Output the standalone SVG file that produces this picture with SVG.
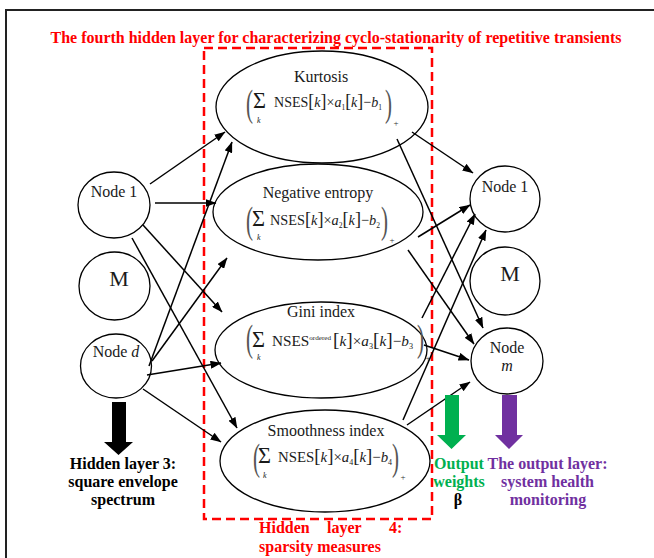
<svg xmlns="http://www.w3.org/2000/svg" width="654" height="558" viewBox="0 0 654 558">
<defs>
<marker id="ah" viewBox="0 0 11 8" refX="10.5" refY="4" markerWidth="11" markerHeight="8" markerUnits="userSpaceOnUse" orient="auto">
<path d="M0,0 L11,4 L0,8 z" fill="#000"/>
</marker>
<style>
.nd{fill:#fff;stroke:#000;stroke-width:1.3}
.lb{font-family:"Liberation Serif","Times New Roman",serif;font-size:16px;fill:#1a1a1a;text-anchor:middle}
.bm{font-family:"Liberation Serif","Times New Roman",serif;font-size:22px;fill:#1a1a1a;text-anchor:middle}
.it{font-style:italic}
.fm{font-family:"Liberation Serif","Times New Roman",serif;font-size:15px;fill:#1a1a1a}
.br{font-size:19px}
.sb{font-size:8px}
.sp{font-size:7px}
.sig{font-family:"Liberation Serif","Times New Roman",serif;font-size:23px;fill:#1a1a1a}
.kk{font-family:"Liberation Serif","Times New Roman",serif;font-size:8px;font-style:italic;fill:#1a1a1a}
.pr{font-family:"Liberation Serif","Times New Roman",serif;font-size:38px;fill:#555}
.pl{font-family:"Liberation Serif","Times New Roman",serif;font-size:9px;fill:#333}
.cn line{stroke:#000;stroke-width:1.5;marker-end:url(#ah)}
.bt{font-family:"Liberation Serif","Times New Roman",serif;font-size:16px;font-weight:bold;text-anchor:middle}
</style>
</defs>
<rect x="0" y="0" width="654" height="558" fill="#fff"/>
<rect x="6" y="10" width="670" height="570" fill="none" stroke="#222" stroke-width="2"/>
<text class="bt" x="336" y="43" fill="#ff0000">The fourth hidden layer for characterizing cyclo-stationarity of repetitive transients</text>
<rect id="hidden-layer-box" x="204" y="48" width="228" height="471" fill="none" stroke="#ff0000" stroke-width="2.5" stroke-dasharray="9,5"/>

<g id="in-node1"><ellipse class="nd" cx="114" cy="205" rx="36" ry="33"/><text class="lb" x="114" y="197">Node 1</text></g>
<g id="in-M"><ellipse class="nd" cx="114.5" cy="286" rx="35.5" ry="34"/><text class="bm" x="119" y="286">M</text></g>
<g id="in-noded"><ellipse class="nd" cx="116" cy="366" rx="35.5" ry="32"/><text class="lb" x="116" y="357">Node <tspan class="it">d</tspan></text></g>

<g id="kurtosis">
<ellipse class="nd" cx="322" cy="107" rx="106" ry="56"/>
<text class="lb" x="321" y="82">Kurtosis</text>
<text class="pr" x="246" y="116" textLength="7" lengthAdjust="spacingAndGlyphs">(</text>
<text class="sig" x="253" y="108" textLength="13" lengthAdjust="spacingAndGlyphs">Σ</text><text class="kk" x="257" y="123">k</text>
<text class="fm" x="274" y="107" textLength="108" lengthAdjust="spacingAndGlyphs">NSES<tspan class="br">[</tspan><tspan class="it">k</tspan><tspan class="br">]</tspan>×<tspan class="it">a</tspan><tspan class="sb" dy="3">1</tspan><tspan class="br" dy="-3">[</tspan><tspan class="it">k</tspan><tspan class="br">]</tspan>−<tspan class="it">b</tspan><tspan class="sb" dy="3">1</tspan></text>
<text class="pr" x="385" y="116" textLength="7" lengthAdjust="spacingAndGlyphs">)</text>
<text class="pl" x="393.5" y="126">+</text>
</g>

<g id="negative-entropy">
<ellipse class="nd" cx="318" cy="212" rx="105" ry="48"/>
<text class="lb" x="318" y="198">Negative entropy</text>
<text class="pr" x="246" y="233" textLength="7" lengthAdjust="spacingAndGlyphs">(</text>
<text class="sig" x="252" y="226" textLength="13" lengthAdjust="spacingAndGlyphs">Σ</text><text class="kk" x="257" y="240">k</text>
<text class="fm" x="270" y="225" textLength="110" lengthAdjust="spacingAndGlyphs">NSES<tspan class="br">[</tspan><tspan class="it">k</tspan><tspan class="br">]</tspan>×<tspan class="it">a</tspan><tspan class="sb" dy="3">2</tspan><tspan class="br" dy="-3">[</tspan><tspan class="it">k</tspan><tspan class="br">]</tspan>−<tspan class="it">b</tspan><tspan class="sb" dy="3">2</tspan></text>
<text class="pr" x="381" y="233" textLength="7" lengthAdjust="spacingAndGlyphs">)</text>
<text class="pl" x="389.5" y="243">+</text>
</g>

<g id="gini-index">
<ellipse class="nd" cx="321" cy="350" rx="106" ry="48"/>
<text class="lb" x="321" y="317">Gini index</text>
<text class="pr" x="246" y="351" textLength="7" lengthAdjust="spacingAndGlyphs">(</text>
<text class="sig" x="252" y="347" textLength="13" lengthAdjust="spacingAndGlyphs">Σ</text><text class="kk" x="257" y="360">k</text>
<text class="fm" x="272" y="346" textLength="141" lengthAdjust="spacingAndGlyphs">NSES<tspan class="sp" dy="-6">ordered</tspan><tspan class="br" dx="2" dy="6">[</tspan><tspan class="it">k</tspan><tspan class="br">]</tspan>×<tspan class="it">a</tspan><tspan class="sb" dy="3">3</tspan><tspan class="br" dy="-3">[</tspan><tspan class="it">k</tspan><tspan class="br">]</tspan>−<tspan class="it">b</tspan><tspan class="sb" dy="3">3</tspan></text>
<text class="pr" x="417" y="351" textLength="7" lengthAdjust="spacingAndGlyphs">)</text>
<text class="pl" x="425.5" y="361">+</text>
</g>

<g id="smoothness-index">
<ellipse class="nd" cx="325" cy="461" rx="105" ry="51"/>
<text class="lb" x="326" y="436">Smoothness index</text>
<text class="pr" x="253" y="470" textLength="7" lengthAdjust="spacingAndGlyphs">(</text>
<text class="sig" x="258" y="463" textLength="13" lengthAdjust="spacingAndGlyphs">Σ</text><text class="kk" x="263" y="478">k</text>
<text class="fm" x="278" y="462" textLength="114" lengthAdjust="spacingAndGlyphs">NSES<tspan class="br">[</tspan><tspan class="it">k</tspan><tspan class="br">]</tspan>×<tspan class="it">a</tspan><tspan class="sb" dy="3">4</tspan><tspan class="br" dy="-3">[</tspan><tspan class="it">k</tspan><tspan class="br">]</tspan>−<tspan class="it">b</tspan><tspan class="sb" dy="3">4</tspan></text>
<text class="pr" x="392" y="470" textLength="7" lengthAdjust="spacingAndGlyphs">)</text>
<text class="pl" x="400.5" y="480">+</text>
</g>

<g id="out-node1"><ellipse class="nd" cx="505" cy="199" rx="35" ry="33"/><text class="lb" x="505" y="192">Node 1</text></g>
<g id="out-M"><ellipse class="nd" cx="505" cy="281" rx="35" ry="34"/><text class="bm" x="510" y="281">M</text></g>
<g id="out-nodem"><ellipse class="nd" cx="507" cy="361" rx="36" ry="33"/><text class="lb" x="507" y="353">Node</text><text class="lb it" x="507" y="371">m</text></g>

<g id="connectors" class="cn">
<line x1="150" y1="184" x2="225" y2="132"/>
<line x1="155" y1="203" x2="216" y2="203"/>
<line x1="143" y1="225" x2="222" y2="312"/>
<line x1="132" y1="238" x2="237" y2="428"/>
<line x1="149" y1="366" x2="232" y2="142"/>
<line x1="152" y1="361" x2="227" y2="258"/>
<line x1="147" y1="375" x2="221" y2="363"/>
<line x1="143" y1="389" x2="221" y2="442"/>
<line x1="412" y1="132" x2="473" y2="173"/>
<line x1="397" y1="139" x2="483" y2="328"/>
<line x1="418" y1="237" x2="470" y2="205"/>
<line x1="408" y1="250" x2="474" y2="344"/>
<line x1="422" y1="318" x2="475" y2="214"/>
<line x1="424" y1="345" x2="469" y2="360"/>
<line x1="403" y1="420" x2="486" y2="230"/>
<line x1="407" y1="425" x2="470" y2="382"/>
</g>

<g id="layer3-label">
<path d="M112,402 H126 V442 H133 L118.5,455 L104,442 H112 Z" fill="#000"/>
<text class="bt" x="123" y="469" fill="#000">Hidden layer 3:</text>
<text class="bt" x="123" y="487" fill="#000">square envelope</text>
<text class="bt" x="123" y="505" fill="#000">spectrum</text>
</g>
<g id="weights-label">
<path d="M445,395 H459 V435 H466 L451.5,449 L437,435 H445 Z" fill="#00b050"/>
<text class="bt" x="459" y="469" fill="#00b050">Output</text>
<text class="bt" x="459" y="487" fill="#00b050">weights</text>
<text class="bt" x="458" y="505" fill="#000">β</text>
</g>
<g id="output-label">
<path d="M502,395 H517 V435 H523 L509,449 L495,435 H502 Z" fill="#7030a0"/>
<text class="bt" x="547.5" y="469" fill="#7030a0">The output layer:</text>
<text class="bt" x="547.5" y="487" fill="#7030a0">system health</text>
<text class="bt" x="548" y="505" fill="#7030a0">monitoring</text>
</g>
<g id="layer4-label" font-family="Liberation Serif, Times New Roman, serif" font-size="16" font-weight="bold" fill="#ff0000">
<text x="259" y="533">Hidden</text>
<text x="327" y="533">layer</text>
<text x="389" y="533">4:</text>
<text x="259" y="552">sparsity measures</text>
</g>
</svg>
